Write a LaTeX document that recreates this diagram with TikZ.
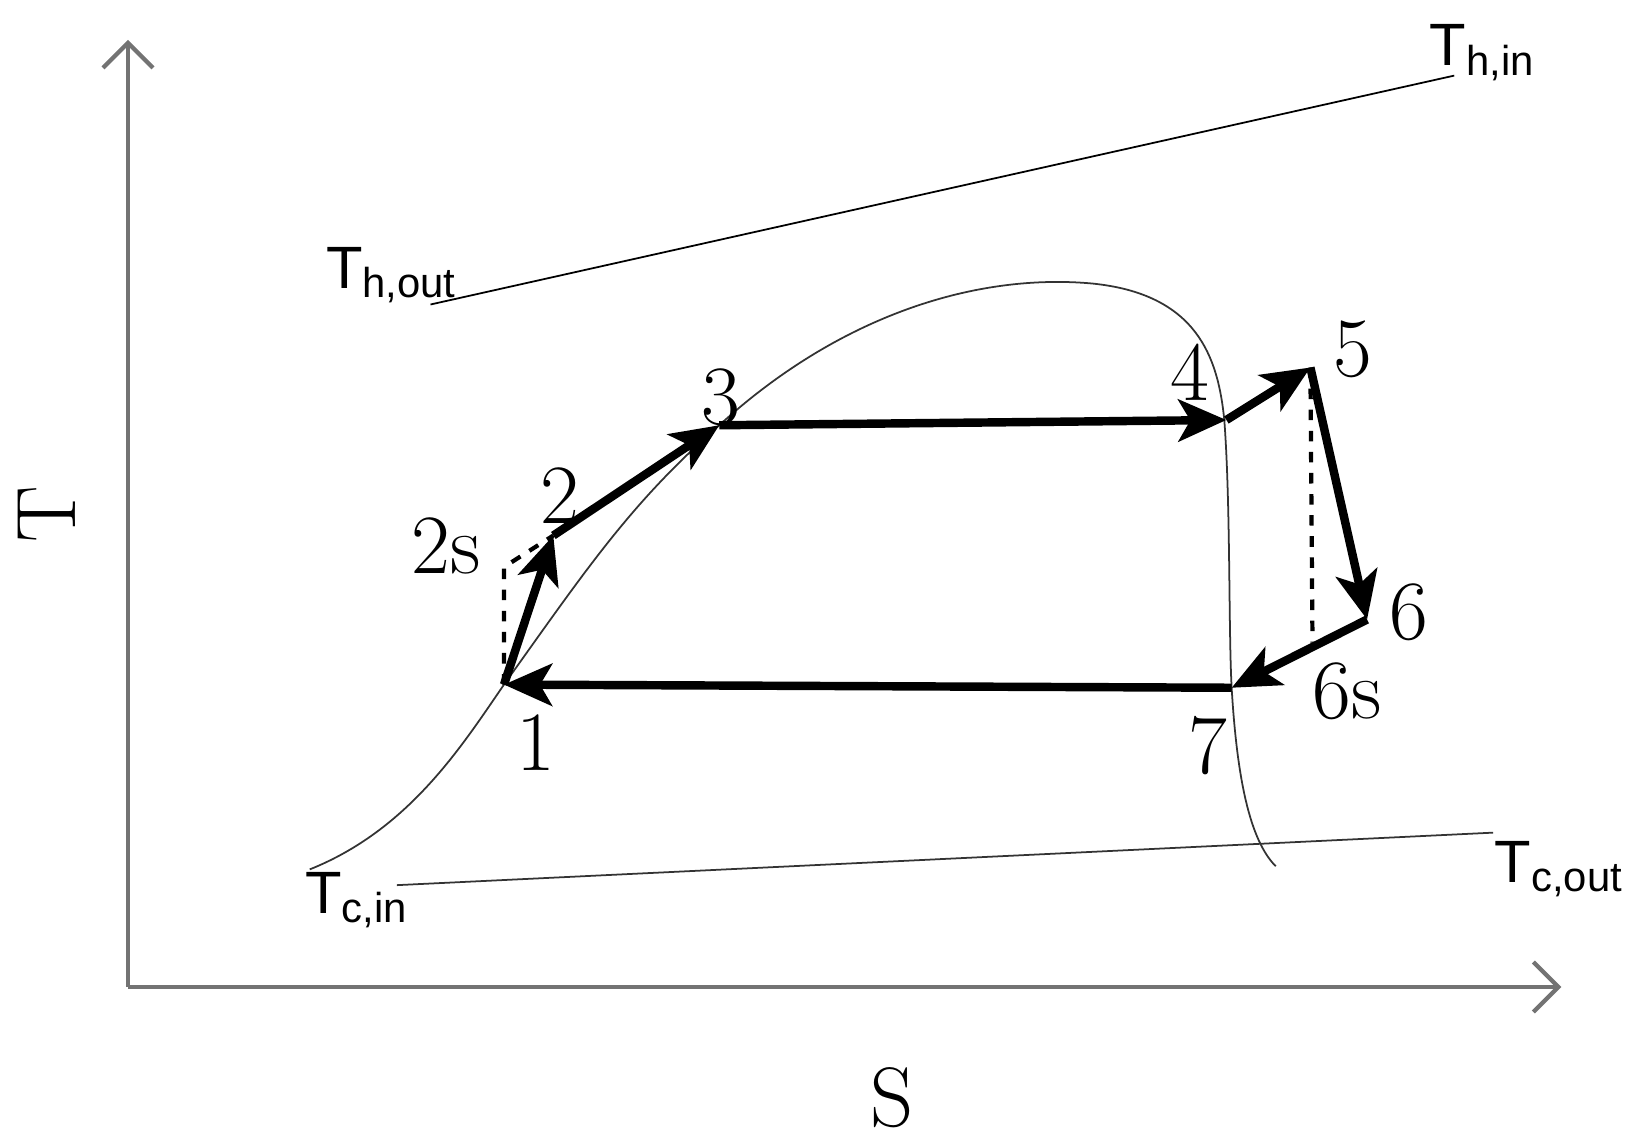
\documentclass[tikz,border=0pt]{standalone}
\usepackage{fontspec}
\newfontfamily\labsans{Liberation Sans}
\usetikzlibrary{arrows.meta}
\begin{document}
\begin{tikzpicture}[x=0.0105cm,y=-0.0105cm,
  cyc/.style={line width=2.4pt,-{Stealth[length=0.48cm,width=0.42cm,inset=0.12cm]}},
  thin/.style={line width=0.5pt},
  axis/.style={line width=1.2pt,draw=gray!90!black,-{Straight Barb[length=0.25cm,width=0.5cm]}},
  num/.style={font=\fontsize{24}{26}\selectfont},
  tl/.style={font=\labsans\fontsize{17}{19}\selectfont}]
\useasboundingbox (0,0) rectangle (1560,1088);
\coordinate (O) at (122,940);
\coordinate (Ytop) at (122,38);
\coordinate (Xend) at (1487,940);
\draw[axis] (O) -- (Ytop);
\draw[axis] (O) -- (Xend);
\node[num,rotate=90] (T) at (45,490) {T};
\node[num] (S) at (850,1045) {S};
% heat lines
\coordinate (th1) at (410,290); \coordinate (th2) at (1385,72);
\draw[thin] (th1) -- (th2);
\node[tl] (thin) at (1412,50) {T\textsubscript{h,in}};
\node[tl] (thout) at (373,262) {T\textsubscript{h,out}};
\coordinate (tc1) at (378,843); \coordinate (tc2) at (1422,793);
\draw[thin,draw=gray!40!black] (tc1) -- (tc2);
\node[tl] (tcin) at (340,857) {T\textsubscript{c,in}};
\node[tl] (tcout) at (1485,828) {T\textsubscript{c,out}};
% points
\coordinate (p1) at (480,652);
\coordinate (p2s) at (480,540);
\coordinate (p2) at (527,510);
\coordinate (p3) at (685,405);
\coordinate (p4) at (1168,400);
\coordinate (p5) at (1248,350);
\coordinate (p6) at (1302,590);
\coordinate (p6s) at (1250,612);
\coordinate (p7) at (1173,655);
% dome
\draw[thin,draw=black!80] (295,828) .. controls (390,790) and (440,710) .. (p1)
  .. controls (560,540) and (600,480) .. (p3)
  .. controls (800,300) and (930,260) .. (1040,270)
  .. controls (1140,280) and (1160,340) .. (1166,400)
  .. controls (1172,480) and (1170,600) .. (p7)
  .. controls (1178,740) and (1190,800) .. (1215,825);
% dashed
\draw[dashed,line width=1.2pt] (p1) -- (p2s) -- (p2);
\draw[dashed,line width=1.2pt] (p5) -- (p6s);
% cycle
\draw[cyc] (p1) -- (p2);
\draw[cyc] (p2) -- (p3);
\draw[cyc] (p3) -- (p4);
\draw[cyc] (p4) -- (p5);
\draw[cyc] (p5) -- (p6);
\draw[cyc] (p6) -- (p7);
\draw[cyc] (p7) -- (p1);
% labels
\node[num] (l1) at (510,707) {1};
\node[num] (l2) at (533,472) {2};
\node[num] (l2s) at (425,520) {2s};
\node[num] (l3) at (687,378) {3};
\node[num] (l4) at (1133,355) {4};
\node[num] (l5) at (1288,333) {5};
\node[num] (l6) at (1342,583) {6};
\node[num] (l6s) at (1283,658) {6s};
\node[num] (l7) at (1150,710) {7};
\end{tikzpicture}
\end{document}
